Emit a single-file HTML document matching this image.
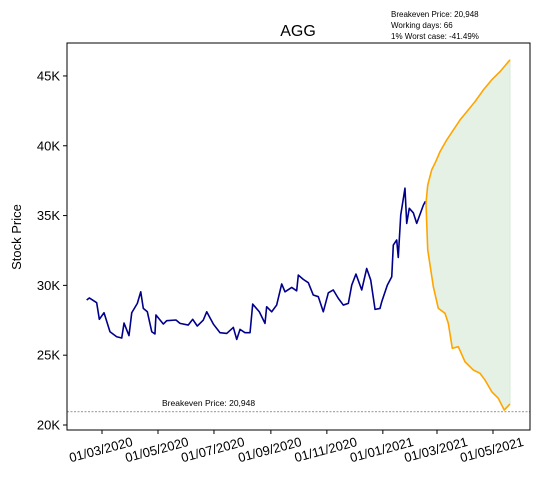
<!DOCTYPE html>
<html><head><meta charset="utf-8"><style>
body{margin:0;background:#fff;}
svg{display:block;font-family:"Liberation Sans","DejaVu Sans",sans-serif;}
</style></head><body>
<svg id="chart" width="542" height="482">
<rect x="0" y="0" width="542" height="482" fill="#fff"/>
<text x="298" y="36" font-size="16" text-anchor="middle">AGG</text>
<g font-size="8">
<text x="391" y="17">Breakeven Price: 20,948</text>
<text x="391" y="28">Working days: 66</text>
<text x="391" y="39">1% Worst case: -41.49%</text>
</g>
<text transform="translate(21,237) rotate(-90)" font-size="13" text-anchor="middle">Stock Price</text>
<g id="plot"></g>
</svg>
<script>
const histDays=[-16.7,-13.8,-5.8,-2.9,2.2,8.7,16,21.5,24,29.4,32.4,38.5,42.2,45,49.4,54.2,57.7,58.8,66.8,70.5,80.6,85,94,98.8,103.8,110.4,114.1,121.3,128.6,135.9,143.1,146.8,150.4,155.8,161.3,164.2,171.4,177.6,179.4,184.9,190.3,195.8,199.4,206.7,212.1,213.9,219.3,224.8,230.2,235.7,241.1,246.6,252,257.5,262.9,268.4,272.1,276.7,283,288.4,292.8,297.5,302.9,304.8,310.9,315.7,317.4,321.1,322.8,325.5,330.1,332,334.8,339.2,342.9,350.1,352,353];
const histPrices=[28950,29100,28760,27570,28040,26680,26320,26230,27300,26400,28040,28710,29540,28350,28110,26680,26520,27880,27230,27470,27520,27280,27160,27570,27090,27520,28110,27230,26610,26560,26990,26130,26850,26610,26610,28660,28110,27280,28470,28110,28590,30100,29540,29850,29610,30740,30430,30190,29310,29190,28110,29470,29670,29070,28590,28710,30020,30810,29670,31210,30380,28280,28350,28830,30020,30620,32890,33250,32000,35040,36960,34440,35520,35200,34440,35740,35980,35880];
const upDays=[353,354.9,359.2,363.6,368.3,375.6,382.8,390.1,397.4,406.4,415.5,424.6,433.7,444.5];
const upPrices=[35880,37190,38270,38860,39580,40420,41130,41850,42440,43160,44000,44720,45310,46150];
const loDays=[353,354.9,361,366.4,373.7,377.3,381.7,388.2,395.5,404.5,411.9,417.3,424.6,431.8,438.3,444.5];
const loPrices=[35880,32540,29910,28360,28000,27290,25490,25610,24530,23940,23700,23220,22390,21910,21070,21500];
const yTicks=[20000,25000,30000,35000,40000,45000];
const yTickLabels=["20K","25K","30K","35K","40K","45K"];
const xTickDays=[0,61,122,184,245,306,365,426];
const xTickLabels=["01/03/2020","01/05/2020","01/07/2020","01/09/2020","01/11/2020","01/01/2021","01/03/2021","01/05/2021"];
const breakeven=20948;

const NS="http://www.w3.org/2000/svg";
const L=67,R=530,T=43,B=430;
const xs=d=>102+d*0.9178;
const ys=v=>425-(v-20000)*0.013962;
const g=document.getElementById('plot');
function mk(tag,attrs,parent){const e=document.createElementNS(NS,tag);for(const k in attrs)e.setAttribute(k,attrs[k]);(parent||g).appendChild(e);return e;}

let pts=upDays.map((d,i)=>xs(d)+','+ys(upPrices[i]));
for(let i=loDays.length-1;i>=0;i--)pts.push(xs(loDays[i])+','+ys(loPrices[i]));
const fill=mk('polygon',{points:pts.join(' '),fill:'#e4f1e4',stroke:'#d8ead8','stroke-width':'1'});



const be=mk('line',{x1:L,x2:R,y1:ys(breakeven),y2:ys(breakeven),stroke:'#555','stroke-width':'0.6','stroke-dasharray':'2,1.5'});


const bt=mk('text',{x:162,y:ys(breakeven)-6,'font-size':'8.5'});
bt.textContent='Breakeven Price: 20,948';



function line(days,vals,color,name){
  const p=mk('polyline',{points:days.map((d,i)=>xs(d)+','+ys(vals[i])).join(' '),fill:'none',stroke:color,'stroke-width':'1.6','stroke-linejoin':'round'});
  
  
}
line(histDays,histPrices,'#00008b','historical-price-line');
line(upDays,upPrices,'#ffa500','forecast-upper-line');
line(loDays,loPrices,'#ffa500','forecast-lower-line');

const fr=mk('rect',{x:L,y:T,width:R-L,height:B-T,fill:'none',stroke:'#000','stroke-width':'1'});



yTicks.forEach((v,i)=>{
  const y=ys(v);
  const tk=mk('line',{x1:L-4,x2:L,y1:y,y2:y,stroke:'#000'});
  
  
  const t=mk('text',{x:L-7,y:y+4.5,'font-size':'13','text-anchor':'end'});
  t.textContent=yTickLabels[i];
  
  
});
xTickDays.forEach((d,i)=>{
  const x=xs(d);
  const tk=mk('line',{x1:x,x2:x,y1:B,y2:B+4,stroke:'#000'});
  
  
  const t=mk('text',{transform:'translate('+x+','+(B+24)+') rotate(-15)','font-size':'13','text-anchor':'middle'});
  t.textContent=xTickLabels[i];
  
  
});
</script>
</body></html>
